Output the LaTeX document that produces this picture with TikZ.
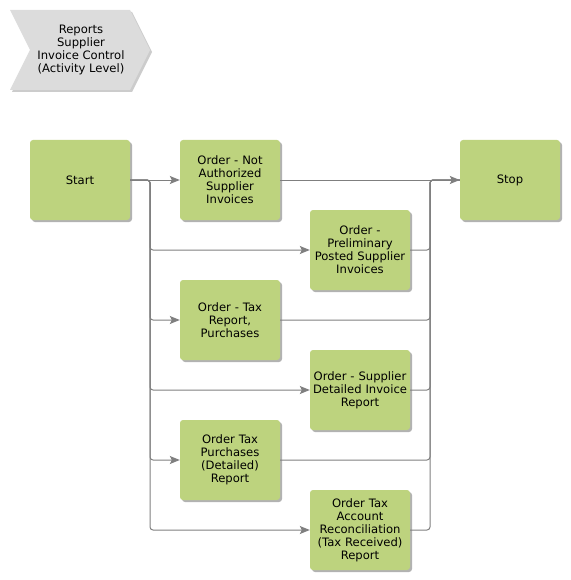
\documentclass[tikz,border=0pt]{standalone}
\usepackage{fontspec}
\setmainfont{DejaVu Sans}
\usetikzlibrary{shapes,shadows,arrows.meta}
\definecolor{taskgreen}{HTML}{BDD37E}
\definecolor{flowgray}{HTML}{7F7F7F}
\definecolor{chevgray}{HTML}{DCDCDC}
\tikzstyle{task}=[rectangle,fill=taskgreen,rounded corners=3pt,inner sep=2pt,minimum width=100pt,minimum height=80pt,text width=96pt,align=center,font=\fontsize{11.6}{13}\selectfont,drop shadow={shadow xshift=2pt,shadow yshift=-2pt,fill=black!30,opacity=1}]
\tikzstyle{flow}=[draw=flowgray,line width=1pt,rounded corners=3pt,-{Stealth[length=10pt,width=8pt,inset=2pt,fill=flowgray]}]
\tikzstyle{merge}=[draw=flowgray,line width=1pt,rounded corners=3pt]

\begin{document}
\begin{tikzpicture}[x=1pt,y=-1pt]
  \useasboundingbox (0,0) rectangle (570,580);
  % process chevron
  \fill[chevgray,drop shadow={shadow xshift=2pt,shadow yshift=-2pt,fill=black!20,opacity=1}]
    (10,10) -- (130,10) -- (150,50) -- (130,90) -- (10,90) -- (30,50) -- cycle;
  \node[align=center,font=\fontsize{11.6}{13}\selectfont] (title) at (81,50)
    {Reports\\Supplier\\Invoice Control\\(Activity Level)};

  \node[task] (start) at (80,180) {Start};
  \node[task] (p1) at (230,180) {Order - Not\\Authorized\\Supplier\\Invoices};
  \node[task] (p2) at (360,250) {Order -\\Preliminary\\Posted Supplier\\Invoices};
  \node[task] (p3) at (230,320) {Order - Tax\\Report,\\Purchases};
  \node[task] (p4) at (360,390) {Order - Supplier\\Detailed Invoice\\Report};
  \node[task] (p5) at (230,460) {Order Tax\\Purchases\\(Detailed)\\Report};
  \node[task] (p6) at (360,530) {Order Tax\\Account\\Reconciliation\\(Tax Received)\\Report};
  \node[task] (stop) at (510,180) {Stop};

  \coordinate (busl) at (150,180);
  \coordinate (busr) at (430,180);

  % split after start
  \draw[flow] (start.east) -- (p1.west);
  \foreach \t in {p2,p3,p4,p5,p6}
    \draw[flow] (start.east) -- (busl) |- (\t.west);
  % merge before stop
  \draw[flow] (p1.east) -- (stop.west);
  \foreach \t in {p2,p3,p4,p5,p6}
    \draw[merge] (\t.east) -| (busr) -- (stop.west);
\end{tikzpicture}
\end{document}
